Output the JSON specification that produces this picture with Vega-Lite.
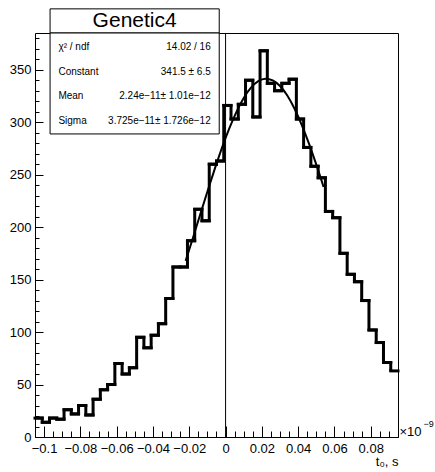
{
  "$schema": "https://vega.github.io/schema/vega-lite/v6.json",
  "width": 363,
  "height": 404,
  "autosize": {"type": "none"},
  "padding": {"left": 35, "top": 33, "right": 37, "bottom": 35},
  "background": "white",
  "config": {
    "view": {"stroke": "black", "strokeWidth": 1},
    "font": "Liberation Sans",
    "text": {"font": "Liberation Sans", "color": "black"},
    "axis": {
      "domain": false, "grid": false, "tickColor": "black", "tickWidth": 1,
      "labelFont": "Liberation Sans", "labelFontSize": 13, "labelColor": "black",
      "labelOverlap": false, "labelFlush": false, "labelBound": false
    }
  },
  "resolve": {"axis": {"x": "independent", "y": "independent"}},
  "datasets": {
    "hist": [
      {"lo": -0.105, "hi": -0.101, "count": 18},
      {"lo": -0.101, "hi": -0.097, "count": 14},
      {"lo": -0.097, "hi": -0.093, "count": 18},
      {"lo": -0.093, "hi": -0.089, "count": 17},
      {"lo": -0.089, "hi": -0.085, "count": 26},
      {"lo": -0.085, "hi": -0.081, "count": 22},
      {"lo": -0.081, "hi": -0.077, "count": 30},
      {"lo": -0.077, "hi": -0.073, "count": 21},
      {"lo": -0.073, "hi": -0.069, "count": 36},
      {"lo": -0.069, "hi": -0.065, "count": 45},
      {"lo": -0.065, "hi": -0.061, "count": 50},
      {"lo": -0.061, "hi": -0.057, "count": 70},
      {"lo": -0.057, "hi": -0.053, "count": 60},
      {"lo": -0.053, "hi": -0.049, "count": 66},
      {"lo": -0.049, "hi": -0.045, "count": 95},
      {"lo": -0.045, "hi": -0.041, "count": 85},
      {"lo": -0.041, "hi": -0.037, "count": 97},
      {"lo": -0.037, "hi": -0.033, "count": 108},
      {"lo": -0.033, "hi": -0.029, "count": 132},
      {"lo": -0.029, "hi": -0.025, "count": 162},
      {"lo": -0.025, "hi": -0.021, "count": 162},
      {"lo": -0.021, "hi": -0.017, "count": 187},
      {"lo": -0.017, "hi": -0.013, "count": 217},
      {"lo": -0.013, "hi": -0.009, "count": 206},
      {"lo": -0.009, "hi": -0.005, "count": 260},
      {"lo": -0.005, "hi": -0.001, "count": 263},
      {"lo": -0.001, "hi": 0.003, "count": 316},
      {"lo": 0.003, "hi": 0.007, "count": 303},
      {"lo": 0.007, "hi": 0.011, "count": 317},
      {"lo": 0.011, "hi": 0.015, "count": 340},
      {"lo": 0.015, "hi": 0.019, "count": 305},
      {"lo": 0.019, "hi": 0.023, "count": 368},
      {"lo": 0.023, "hi": 0.027, "count": 337},
      {"lo": 0.027, "hi": 0.031, "count": 330},
      {"lo": 0.031, "hi": 0.035, "count": 337},
      {"lo": 0.035, "hi": 0.039, "count": 341},
      {"lo": 0.039, "hi": 0.043, "count": 303},
      {"lo": 0.043, "hi": 0.047, "count": 276},
      {"lo": 0.047, "hi": 0.051, "count": 258},
      {"lo": 0.051, "hi": 0.055, "count": 247},
      {"lo": 0.055, "hi": 0.059, "count": 215},
      {"lo": 0.059, "hi": 0.063, "count": 209},
      {"lo": 0.063, "hi": 0.067, "count": 175},
      {"lo": 0.067, "hi": 0.071, "count": 155},
      {"lo": 0.071, "hi": 0.075, "count": 148},
      {"lo": 0.075, "hi": 0.079, "count": 130},
      {"lo": 0.079, "hi": 0.083, "count": 102},
      {"lo": 0.083, "hi": 0.087, "count": 90},
      {"lo": 0.087, "hi": 0.091, "count": 71},
      {"lo": 0.091, "hi": 0.095, "count": 63}
    ],
    "fit": [
      {"t": -0.022, "f": 167.8},
      {"t": -0.018, "f": 189.7},
      {"t": -0.014, "f": 211.9},
      {"t": -0.010, "f": 233.9},
      {"t": -0.006, "f": 255.3},
      {"t": -0.002, "f": 275.6},
      {"t": 0.002, "f": 293.9},
      {"t": 0.006, "f": 309.9},
      {"t": 0.010, "f": 323.1},
      {"t": 0.014, "f": 332.9},
      {"t": 0.018, "f": 339.1},
      {"t": 0.022, "f": 341.5},
      {"t": 0.026, "f": 339.9},
      {"t": 0.030, "f": 334.5},
      {"t": 0.034, "f": 325.4},
      {"t": 0.038, "f": 312.8},
      {"t": 0.042, "f": 297.3},
      {"t": 0.046, "f": 279.4},
      {"t": 0.050, "f": 259.5},
      {"t": 0.054, "f": 238.3}
    ]
  },
  "layer": [
    {
      "data": {"name": "hist"},
      "mark": {"type": "rule", "strokeWidth": 3, "color": "black", "strokeCap": "square"},
      "encoding": {
        "x": {
          "field": "lo", "type": "quantitative",
          "scale": {"domain": [-0.105, 0.095], "nice": false, "zero": false},
          "axis": {
            "orient": "bottom",
            "values": [-0.1, -0.08, -0.06, -0.04, -0.02, 0, 0.02, 0.04, 0.06, 0.08],
            "labelExpr": "replace(format(datum.value, '.2~f'), '-', '−')",
            "tickSize": -11, "labelPadding": 16,
            "title": "t₀, s", "titleFont": "Liberation Sans", "titleFontSize": 13,
            "titleFontWeight": "normal", "titleColor": "black", "titleAnchor": "end", "titlePadding": 0
          }
        },
        "x2": {"field": "hi"},
        "y": {
          "field": "count", "type": "quantitative",
          "scale": {"domain": [0, 385], "nice": false},
          "axis": {
            "orient": "left",
            "values": [0, 50, 100, 150, 200, 250, 300, 350],
            "tickSize": -8, "labelPadding": 12,
            "title": null
          }
        }
      }
    },
    {
      "data": {"name": "hist"},
      "mark": {"type": "line", "interpolate": "step-after", "strokeWidth": 3, "color": "black", "strokeJoin": "miter"},
      "encoding": {
        "x": {
          "field": "lo", "type": "quantitative",
          "axis": {
            "orient": "bottom",
            "values": [-0.105, -0.095, -0.09, -0.085, -0.075, -0.07, -0.065, -0.055, -0.05, -0.045, -0.035, -0.03, -0.025, -0.015, -0.01, -0.005, 0.005, 0.01, 0.015, 0.025, 0.03, 0.035, 0.045, 0.05, 0.055, 0.065, 0.07, 0.075, 0.085, 0.09, 0.095],
            "tickSize": -6, "labels": false, "title": null
          }
        },
        "y": {
          "field": "count", "type": "quantitative",
          "axis": {
            "orient": "left",
            "values": [10, 20, 30, 40, 60, 70, 80, 90, 110, 120, 130, 140, 160, 170, 180, 190, 210, 220, 230, 240, 260, 270, 280, 290, 310, 320, 330, 340, 360, 370, 380],
            "tickSize": -4, "labels": false, "title": null
          }
        }
      }
    },
    {
      "data": {"name": "fit"},
      "mark": {"type": "line", "interpolate": "monotone", "strokeWidth": 2, "color": "black"},
      "encoding": {
        "x": {"field": "t", "type": "quantitative", "axis": null},
        "y": {"field": "f", "type": "quantitative", "axis": null}
      }
    },
    {
      "data": {"values": [{}]},
      "mark": {"type": "rule", "color": "black", "strokeWidth": 1},
      "encoding": {"x": {"datum": 0, "axis": null}}
    },
    {
      "data": {"values": [{}]},
      "mark": {"type": "rect", "fill": "white", "stroke": "black", "strokeWidth": 1},
      "encoding": {
        "x": {"datum": -0.0967, "axis": null}, "x2": {"datum": -0.0035},
        "y": {"datum": 385, "axis": null}, "y2": {"datum": 408}
      }
    },
    {
      "data": {"values": [{}]},
      "mark": {"type": "rect", "fill": "white", "stroke": "black", "strokeWidth": 1},
      "encoding": {
        "x": {"datum": -0.0967, "axis": null}, "x2": {"datum": -0.0035},
        "y": {"datum": 288.8, "axis": null}, "y2": {"datum": 385}
      }
    },
    {
      "data": {"values": [{}]},
      "mark": {"type": "text", "text": "Genetic4", "fontSize": 21, "align": "center", "baseline": "middle", "font": "Liberation Sans"},
      "encoding": {"x": {"datum": -0.0501, "axis": null}, "y": {"datum": 396.7, "axis": null}}
    },
    {
      "data": {"values": [{}]},
      "mark": {"type": "text", "text": ["χ² / ndf", "Constant", "Mean", "Sigma"], "fontSize": 10, "lineHeight": 24.7, "align": "left", "baseline": "middle", "font": "Liberation Sans"},
      "encoding": {"x": {"datum": -0.0921, "axis": null}, "y": {"datum": 371.8, "axis": null}}
    },
    {
      "data": {"values": [{}]},
      "mark": {"type": "text", "text": ["14.02 / 16", "341.5 ± 6.5", "2.24e−11± 1.01e−12", "3.725e−11± 1.726e−12"], "fontSize": 10, "lineHeight": 24.7, "align": "right", "baseline": "middle", "font": "Liberation Sans"},
      "encoding": {"x": {"datum": -0.00817, "axis": null}, "y": {"datum": 371.8, "axis": null}}
    },
    {
      "data": {"values": [{}]},
      "mark": {"type": "text", "text": "×10", "fontSize": 13, "align": "left", "baseline": "middle", "font": "Liberation Sans"},
      "encoding": {"x": {"datum": 0.0958, "axis": null}, "y": {"datum": 4.5, "axis": null}}
    },
    {
      "data": {"values": [{}]},
      "mark": {"type": "text", "text": "−9", "fontSize": 9, "align": "left", "baseline": "middle", "font": "Liberation Sans"},
      "encoding": {"x": {"datum": 0.1091, "axis": null}, "y": {"datum": 12.1, "axis": null}}
    }
  ]
}
